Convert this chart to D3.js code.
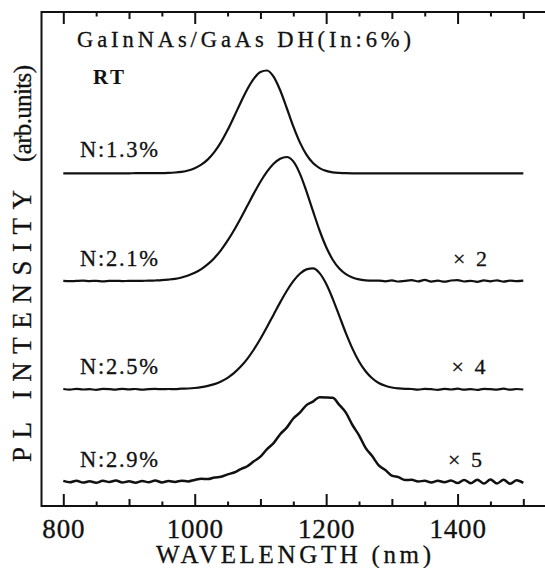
<!DOCTYPE html>
<html><head><meta charset="utf-8">
<script src="https://cdn.jsdelivr.net/npm/d3@7"></script>
<style>body{margin:0;background:#fff}svg{display:block}</style>
</head><body>
<svg id="chart" width="545" height="568"></svg>
<script>
// ---------- data ----------
const wavelength = [800,810,820,830,840,850,860,870,880,890,900,910,920,930,940,950,960,970,980,990,1000,1010,1020,1030,1040,1050,1060,1070,1080,1090,1100,1110,1120,1130,1140,1150,1160,1170,1180,1190,1200,1210,1220,1230,1240,1250,1260,1270,1280,1290,1300,1310,1320,1330,1340,1350,1360,1370,1380,1390,1400,1410,1420,1430,1440,1450,1460,1470,1480,1490,1500];
const plN13 = [0,0,0,0,0,0,0,0,0,0, 0,0.1,0.1,0.1,0.2,0.2,0.4,0.8,1.5,2.8, 5.1,8.6,13.9,21.4,31.2,43.2,56.8,70.9,84.1,94.7, 101.3,102.8,96.6,83.0,65.3,46.9,30.9,18.6,10.2,5.2, 2.4,1.0,0.4,0.1,0,0,0,0,0,0, 0,0,0,0,0,0,0,0,0,0, 0,0,0,0,0,0,0,0,0,0, 0];
const plN21 = [0.2,-0.2,0.1,0.3,-0.1,0.2,-0.3,0.1,0.2,-0.1, 0.1,0.1,0.2,0.3,0.5,0.8,1.4,2.2,3.5,5.5, 8.2,11.9,16.8,23.1,30.9,40.3,51.0,62.8,75.2,87.6, 99.3,109.4,117.3,122.3,124.0,119.6,107.4,89.7,69.8,50.5, 34.0,21.3,12.4,6.8,3.4,1.6,0.7,0.3,0.4,-0.3, 0.6,-0.5,0.2,0.8,-0.4,1.2,-0.6,0.3,-0.7,0.5, 0.9,-0.5,0.2,-0.8,0.6,-0.3,0.7,-0.6,0.4,-0.2, 0.3];
const plN25 = [0.3,-0.4,0.5,-0.2,0.1,-0.5,0.4,0.2,-0.3,0.5, -0.1,0.3,-0.4,0.2,0.4,0.1,0.3,0.2,0.6,0.8, 1.3,2.1,3.4,5.2,7.9,11.5,16.4,22.7,30.5,39.8, 50.5,62.3,74.6,86.9,98.3,108.1,115.5,119.9,120.9,116.2, 105.5,90.5,73.4,56.2,40.7,27.8,18.0,11.0,6.3,3.5, 1.8,0.9,0.4,0.3,-0.4,0.5,0.1,-0.5,0.4,-0.2, 0.6,-0.4,0.2,-0.6,0.5,0.1,-0.3,0.6,-0.4,0.3, -0.2];
const plN29 = [0.8,-0.6,1.0,-0.9,0.4,-1.1,0.9,-0.3,1.2,-0.8, 0.5,-1.0,0.7,-0.5,1.1,-0.7,0.6,-0.2,1.0,0.3, 1.8,2.9,2.6,4.2,4.9,7.3,9.2,12.6,15.5,20.4, 25.0,32.5,38.6,47.4,54.1,63.2,69.0,76.6,80.1,84.5, 84.3,83.9,76.8,69.1,56.7,46.4,33.9,25.6,16.3,11.7, 6.1,4.6,1.6,1.9,0.1,1.0,-0.8,0.9,-0.5,1.3, -1.4,1.8,-1.6,2.0,-1.9,2.2,-1.8,1.9,-2.0,1.5, -1.2];
const seriesLabels = ["N:1.3%","N:2.1%","N:2.5%","N:2.9%"];
const multiplierLabels = ["", "\u00d7 2", "\u00d7 4", "\u00d7 5"];
const offsets = [332.7, 225, 116.7, 24.3];   // vertical offsets (arb. units)
const majorTicks = [800,1000,1200,1400];
const midTicks = [900,1100,1300,1500];
const minorTicks = [850,950,1050,1150,1250,1350,1450];
const titleText = "GaInNAs/GaAs  DH(In:6%)";
const condText = "RT";
const xTitle = "WAVELENGTH  (nm)";
const yTitleMain = "PL  INTENSITY";
const yTitleUnit = "(arb.units)";

// ---------- layout ----------
const svg = d3.select("#chart");
const frame = {left: 41.5, top: 12, right: 552, bottom: 506};
const x = d3.scaleLinear().domain([800,1500]).range([63.3,523.3]);
const y = d3.scaleLinear().domain([0,494]).range([frame.bottom, frame.top]);
const FONT = "'Liberation Serif','Times New Roman',serif";
const INK = "#111";

function addAxis(gen, ty){
  const g = svg.append("g").attr("transform",`translate(0,${ty})`).call(gen);
  g.select(".domain").remove();
  g.selectAll("line").attr("stroke",INK).attr("stroke-width",2);
  return g;
}
const bottomMajor = addAxis(d3.axisBottom(x).tickValues(majorTicks).tickSize(-12).tickPadding(13).tickFormat(d3.format("d")), frame.bottom);
bottomMajor.selectAll("text").attr("font-family",FONT).attr("font-size",27).attr("fill",INK)
  .attr("letter-spacing",0.8).attr("stroke",INK).attr("stroke-width",0.35);
addAxis(d3.axisBottom(x).tickValues(midTicks).tickSize(-7).tickFormat(""), frame.bottom);
addAxis(d3.axisBottom(x).tickValues(minorTicks).tickSize(-4.5).tickFormat(""), frame.bottom);
addAxis(d3.axisTop(x).tickValues(majorTicks).tickSize(-12).tickFormat(""), frame.top);
addAxis(d3.axisTop(x).tickValues(midTicks).tickSize(-7).tickFormat(""), frame.top);
addAxis(d3.axisTop(x).tickValues(minorTicks).tickSize(-4.5).tickFormat(""), frame.top);

svg.append("rect").attr("x",frame.left).attr("y",frame.top)
  .attr("width",frame.right-frame.left).attr("height",frame.bottom-frame.top)
  .attr("fill","none").attr("stroke",INK).attr("stroke-width",2);

const allSeries = [plN13, plN21, plN25, plN29];
allSeries.forEach((vals, i) => {
  const line = d3.line()
    .x((d, j) => x(wavelength[j]))
    .y(d => y(offsets[i] + d))
    .curve(d3.curveMonotoneX);
  svg.append("path").attr("d", line(vals))
    .attr("fill","none").attr("stroke",INK)
    .attr("stroke-width", i === 3 ? 2.5 : 2.2)
    .attr("stroke-linejoin","round");
});

function txt(t, xx, yy, size, len, anchor){
  const e = svg.append("text").attr("x",xx).attr("y",yy)
    .attr("font-family",FONT).attr("font-size",size).attr("fill",INK)
    .attr("stroke",INK).attr("stroke-width",0.3)
    .attr("text-anchor",anchor||"start").text(t);
  if (len) e.attr("textLength",len).attr("lengthAdjust","spacing");
  return e;
}
txt(titleText, 77, 47, 22.5, 334);
txt(condText, 93, 84, 21, 31).attr("font-weight","bold").attr("stroke-width",0);
const labelBase = [157, 266, 374, 467];
seriesLabels.forEach((s,i) => txt(s, 80, labelBase[i], 22.5, 78));
const multX = [0, 453, 451.5, 448];
multiplierLabels.forEach((s,i) => { if (s) txt(s, multX[i], labelBase[i], 22, 34); });

txt(xTitle, 156, 562.5, 25, 275);
svg.append("text")
  .attr("transform","translate(31,462) rotate(-90)")
  .attr("font-family",FONT).attr("font-size",27).attr("fill",INK)
  .attr("stroke",INK).attr("stroke-width",0.3)
  .attr("textLength",272).attr("lengthAdjust","spacing")
  .text(yTitleMain);
svg.append("text")
  .attr("transform","translate(31,162) rotate(-90)")
  .attr("font-family",FONT).attr("font-size",25).attr("fill",INK)
  .attr("stroke",INK).attr("stroke-width",0.3)
  .attr("textLength",97).attr("lengthAdjust","spacing")
  .text(yTitleUnit);
</script>
</body></html>
